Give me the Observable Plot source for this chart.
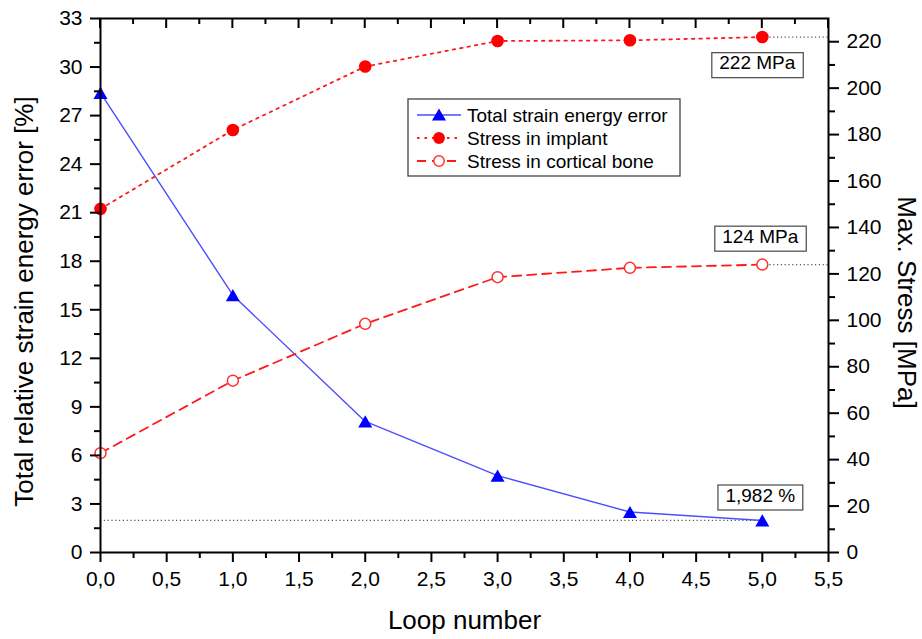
<!DOCTYPE html>
<html><head><meta charset="utf-8">
<script src="https://cdn.jsdelivr.net/npm/d3@7"></script>
<script src="https://cdn.jsdelivr.net/npm/@observablehq/plot@0.6"></script>
<style>body{margin:0;background:#fff;}</style>
</head><body><div id="chart"></div>
<script>
// ---- data ----
const loops = [0, 1, 2, 3, 4, 5];
const energyError = [28.4, 15.9, 8.1, 4.75, 2.5, 1.982];        // % (left axis)
const implantStress = [148, 182, 209.3, 220.3, 220.6, 222];     // MPa (right axis)
const corticalStress = [42.8, 74, 98.5, 118.6, 122.6, 124];     // MPa (right axis)
const leftTicks = d3.range(0, 34, 3);
const leftMinor = d3.range(1.5, 33, 3);
const rightTicks = d3.range(0, 221, 20);
const rightMinor = d3.range(10, 230, 20);
const xTicks = d3.range(0, 5.51, 0.5);
const xMinor = d3.range(0.25, 5.5, 0.5);
const seriesNames = ["Total strain energy error", "Stress in implant", "Stress in cortical bone"];
const annotationLabels = ["222 MPa", "124 MPa", "1,982 %"];
const xTitle = "Loop number";
const yLeftTitle = "Total relative strain energy error [%]";
const yRightTitle = "Max. Stress [MPa]";

const W = 922, H = 639, MT = 18, MB = 87;
const leftMax = 33, rightMax = 230, xMax = 5.5;
const toLeft = v => v * leftMax / rightMax;
const toRight = v => v * rightMax / leftMax;

const energy = loops.map((x, i) => ({x, y: energyError[i]}));
const implant = loops.map((x, i) => ({x, y: toLeft(implantStress[i])}));
const cortical = loops.map((x, i) => ({x, y: toLeft(corticalStress[i])}));
const last = loops.length - 1;
const refs = [
  {x1: loops[last], x2: xMax, y: implant[last].y},
  {x1: loops[last], x2: xMax, y: cortical[last].y},
  {x1: 0, x2: loops[last], y: energy[last].y}
];
const ann = [
  {x: loops[last], y: implant[last].y, label: annotationLabels[0], dx: -5, dy: 26},
  {x: loops[last], y: cortical[last].y, label: annotationLabels[1], dx: -2, dy: -28},
  {x: loops[last], y: energy[last].y, label: annotationLabels[2], dx: -2, dy: -25}
];

const BLUE_LINE = "#4d4dff", BLUE = "#0000ff", RED = "#ff1a1a";
const fmtX = d => d.toFixed(1).replace(".", ",");

const plot = Plot.plot({
  width: W, height: H,
  marginLeft: 100, marginRight: 94, marginTop: MT, marginBottom: MB,
  x: {domain: [0, xMax]},
  y: {domain: [0, leftMax]},
  style: {fontFamily: "'Liberation Sans', Arial, sans-serif", fontSize: "21px", color: "#000", background: "#fff"},
  marks: [
    Plot.ruleY(refs, {y: "y", x1: "x1", x2: "x2", stroke: "#555", strokeDasharray: "1.2,2.6", strokeWidth: 1.2}),
    Plot.line(energy, {x: "x", y: "y", stroke: BLUE_LINE, strokeWidth: 1.4}),
    Plot.line(implant, {x: "x", y: "y", stroke: RED, strokeWidth: 1.8, strokeDasharray: "2.5,5"}),
    Plot.line(cortical, {x: "x", y: "y", stroke: RED, strokeWidth: 1.8, strokeDasharray: "9,6"}),
    Plot.dot(energy, {x: "x", y: "y", symbol: "triangle", r: 5.2, fill: BLUE, dy: 2}),
    Plot.dot(implant, {x: "x", y: "y", r: 6.3, fill: "#ff0000"}),
    Plot.dot(cortical, {x: "x", y: "y", r: 5.5, fill: "white", stroke: "#ff3030", strokeWidth: 1.5}),
    ...ann.map(a => Plot.text([a], {x: "x", y: "y", text: "label", dx: a.dx, dy: a.dy, fontSize: 19})),
    Plot.frame({strokeWidth: 2}),
    Plot.axisY(leftTicks, {anchor: "left", tickSize: 10, tickPadding: 8, strokeWidth: 2, tickFormat: d => String(d), label: null}),
    Plot.axisY(leftMinor, {anchor: "left", tickSize: 6, strokeWidth: 2, tickFormat: () => "", label: null}),
    Plot.axisY(rightTicks.map(toLeft), {anchor: "right", tickSize: 10, tickPadding: 8, strokeWidth: 2, tickFormat: d => String(Math.round(toRight(d))), label: null}),
    Plot.axisY(rightMinor.map(toLeft), {anchor: "right", tickSize: 6, strokeWidth: 2, tickFormat: () => "", label: null}),
    Plot.axisX(xTicks, {anchor: "bottom", tickSize: 10, tickPadding: 9, strokeWidth: 2, tickFormat: fmtX, label: null}),
    Plot.axisX(xMinor, {anchor: "bottom", tickSize: 6, strokeWidth: 2, tickFormat: () => "", label: null}),
    Plot.text([xTitle], {frameAnchor: "bottom", text: d => d, dy: 68, fontSize: 26, lineAnchor: "middle"}),
    Plot.text([yLeftTitle], {frameAnchor: "left", text: d => d, dx: -76, dy: 16, rotate: -90, fontSize: 26, lineAnchor: "middle", textAnchor: "middle"}),
    Plot.text([yRightTitle], {frameAnchor: "right", text: d => d, dx: 78, dy: 17, rotate: 90, fontSize: 26, lineAnchor: "middle", textAnchor: "middle"})
  ]
});
document.getElementById("chart").appendChild(plot);
const svg = d3.select(plot);

// inward ticks along the top edge, positioned with the plot's own x scale
const xs = plot.scale("x");
const topY = MT;
const topG = svg.append("g").attr("stroke", "#000").attr("stroke-width", 2);
[[xTicks, 10], [xMinor, 6]].forEach(([vals, len]) => {
  vals.forEach(v => {
    const px = xs.apply(v);
    topG.append("line").attr("x1", px).attr("x2", px).attr("y1", topY).attr("y2", topY + len);
  });
});

// boxes around annotations
svg.selectAll("text").filter(function() { return annotationLabels.includes(this.textContent); }).each(function() {
  const b = this.getBBox();
  const r = document.createElementNS("http://www.w3.org/2000/svg", "rect");
  r.setAttribute("x", b.x - 7.5);
  r.setAttribute("y", b.y + 0.5);
  r.setAttribute("width", b.width + 15);
  r.setAttribute("height", b.height + 4);
  r.setAttribute("fill", "white");
  r.setAttribute("stroke", "#555");
  r.setAttribute("stroke-width", 1.3);
  const t = this.getAttribute("transform");
  if (t) r.setAttribute("transform", t);
  this.parentNode.insertBefore(r, this);
});

// legend
const legendItems = [
  {name: seriesNames[0], stroke: BLUE_LINE, dash: null, sym: d3.symbolTriangle, fill: BLUE, mstroke: "none", size: 85},
  {name: seriesNames[1], stroke: RED, dash: "2.5,5", sym: d3.symbolCircle, fill: "#ff0000", mstroke: "none", size: 110},
  {name: seriesNames[2], stroke: RED, dash: "9,6", sym: d3.symbolCircle, fill: "white", mstroke: "#ff3030", size: 85}
];
const lg = svg.append("g").attr("transform", "translate(408,99)");
lg.append("rect").attr("width", 272).attr("height", 77).attr("fill", "white").attr("stroke", "#444").attr("stroke-width", 1.3);
legendItems.forEach((it, i) => {
  const y = 16 + i * 23;
  lg.append("line").attr("x1", 9).attr("x2", 53).attr("y1", y).attr("y2", y)
    .attr("stroke", it.stroke).attr("stroke-width", it.dash ? 1.8 : 1.4).attr("stroke-dasharray", it.dash);
  lg.append("path").attr("d", d3.symbol(it.sym, it.size)()).attr("transform", `translate(31,${y + (it.sym === d3.symbolTriangle ? 1.5 : 0)})`)
    .attr("fill", it.fill).attr("stroke", it.mstroke).attr("stroke-width", 1.5);
  lg.append("text").attr("x", 59).attr("y", y).attr("dy", "0.35em").attr("text-anchor", "start")
    .attr("font-size", 19).attr("fill", "#000").text(it.name);
});
</script>
</body></html>
